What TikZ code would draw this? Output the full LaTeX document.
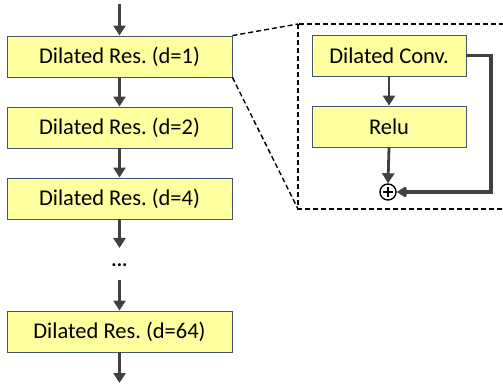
\documentclass[tikz,border=0pt]{standalone}
\usepackage{fontspec}
\setmainfont{Carlito}
\usetikzlibrary{arrows.meta}
\definecolor{boxfill}{HTML}{FFFF9F}
\definecolor{boxline}{HTML}{44546A}
\definecolor{arr}{HTML}{404040}
\frenchspacing
\begin{document}
\begin{tikzpicture}[x=1pt,y=-1pt,
  blk/.style={draw=boxline,fill=boxfill,line width=0.9pt,minimum height=41pt,inner sep=0pt,font=\fontsize{22.5}{26}\selectfont},
  flow/.style={draw=arr,line width=2.8pt,-{Triangle[length=10pt,width=12pt]}},
  zoomline/.style={draw=black,line width=1.4pt,dash pattern=on 5pt off 3pt}]
\useasboundingbox (0,0) rectangle (503,387);
\begin{scope}
\clip (0,0) rectangle (503,387);
\draw[zoomline] (298,24) rectangle (520,209);
\end{scope}
\node[blk,minimum width=225pt] (b1) at (119.5,56.5) {Dilated Res. (d=1)};
\node[blk,minimum width=225pt] (b2) at (119.5,127.5) {Dilated Res. (d=2)};
\node[blk,minimum width=225pt] (b4) at (119.5,198.5) {Dilated Res. (d=4)};
\node[font=\bfseries\fontsize{20}{20}\selectfont,inner sep=0pt] (dots) at (119.5,265) {...};
\node[blk,minimum width=225pt] (b64) at (119.5,331.5) {Dilated Res. (d=64)};
\coordinate (top) at (119.5,4);
\coordinate (bot) at (119.5,383);
\coordinate (d1) at (119.5,248);
\coordinate (d2) at (119.5,280);
\draw[flow] (top) -- (b1.north);
\draw[flow] (b1) -- (b2);
\draw[flow] (b2) -- (b4);
\draw[flow] (b4.south) -- (d1);
\draw[flow] (d2) -- (b64.north);
\draw[flow] (b64.south) -- (bot);
\coordinate (zt) at (298,24);
\coordinate (zb) at (298,209);
\draw[zoomline] (b1.north east) -- (zt);
\draw[zoomline] (b1.south east) -- (zb);
\node[blk,minimum width=154pt] (conv) at (389,55.5) {Dilated Conv.};
\node[blk,minimum width=154pt] (relu) at (389,126.5) {Relu};
\node[draw=black,circle,line width=1.4pt,minimum size=16pt,inner sep=0pt] (plus) at (388,192) {};
\draw[black,line width=1.4pt] ([xshift=-5pt]plus.center) -- ([xshift=5pt]plus.center)
  ([yshift=-5pt]plus.center) -- ([yshift=5pt]plus.center);
\draw[flow] (conv) -- (relu);
\draw[flow] (relu.south) -- (plus.north);
\draw[flow,line width=3.2pt,miter limit=2] (conv.east) -- (491,55.5) |- (plus.east);
\end{tikzpicture}
\end{document}
